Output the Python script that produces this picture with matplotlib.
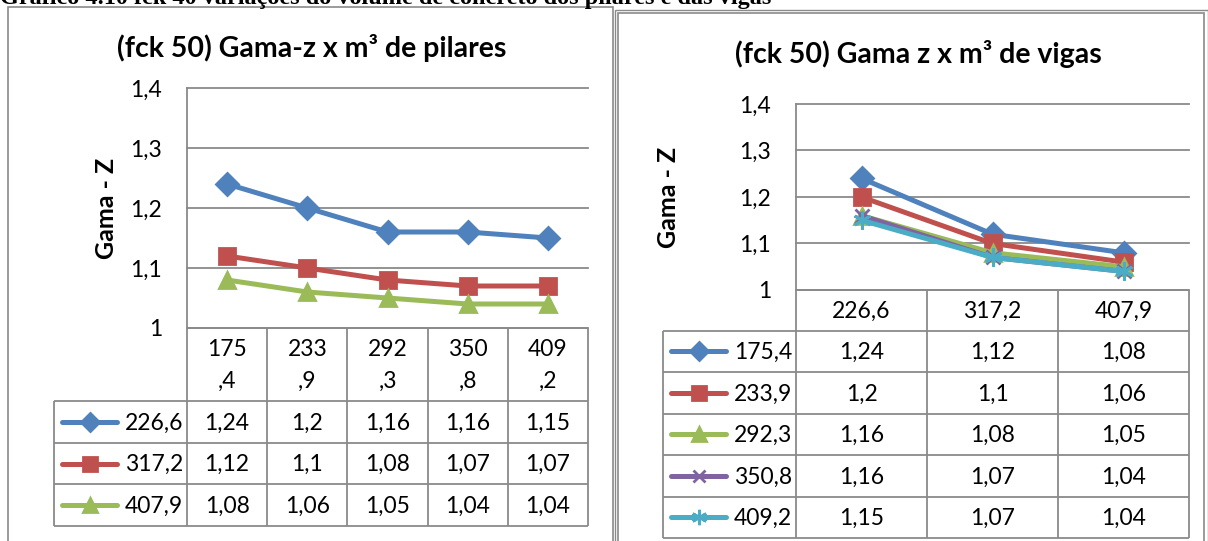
import matplotlib
matplotlib.use('Agg')
import matplotlib.pyplot as plt
from matplotlib.patches import Rectangle

# dados do grafico de pilares (fck 50)
categorias_pilares = ['175,4', '233,9', '292,3', '350,8', '409,2']
cabecalho_pilares = ['175\n,4', '233\n,9', '292\n,3', '350\n,8', '409\n,2']
series_pilares = ['226,6', '317,2', '407,9']
valores_pilares = [
    [1.24, 1.2, 1.16, 1.16, 1.15],
    [1.12, 1.1, 1.08, 1.07, 1.07],
    [1.08, 1.06, 1.05, 1.04, 1.04],
]

# dados do grafico de vigas (fck 50)
categorias_vigas = ['226,6', '317,2', '407,9']
series_vigas = ['175,4', '233,9', '292,3', '350,8', '409,2']
valores_vigas = [
    [1.24, 1.12, 1.08],
    [1.2, 1.1, 1.06],
    [1.16, 1.08, 1.05],
    [1.16, 1.07, 1.04],
    [1.15, 1.07, 1.04],
]

ticks_y = [1.0, 1.1, 1.2, 1.3, 1.4]
rotulos_y = ['1', '1,1', '1,2', '1,3', '1,4']

# cores e marcadores padrao do excel
cores = ['#4F81BD', '#C0504D', '#9BBB59', '#8064A2', '#4BACC6']
marcadores = ['D', 's', '^', 'x', (6, 2, 0)]
tamanhos = [11, 12, 12, 10, 13]

W, H = 1208, 541
FONTE = 'Lato'
CINZA = '#8a8a8a'
TAM = 16.5

plt.rcParams['font.family'] = [FONTE, 'DejaVu Sans']

fig = plt.figure(figsize=(W / 100, H / 100), dpi=100)


def eixo_px(x0, y0, x1, y1):
    '''
    Cria um eixo a partir de coordenadas em pixels (origem no canto superior esquerdo)
    '''
    return fig.add_axes([x0 / W, 1 - y1 / H, (x1 - x0) / W, (y1 - y0) / H])


def num(v):
    return f"{v:g}".replace('.', ',')


def desenhar_painel(titulo, cabecalho, series, valores, caixa, plot, tab_esq, linhas, pos_titulo, ylabel_x):
    '''
    Desenha um grafico de linhas do excel com a tabela de dados embaixo
    '''
    x0, y0, x1, y1 = plot
    n = len(cabecalho)

    # area do grafico
    ax = eixo_px(x0, y0, x1, y1)
    for i, vals in enumerate(valores):
        ax.plot(range(n), vals, color=cores[i], lw=3.6, marker=marcadores[i], ms=tamanhos[i],
                mec=cores[i], mfc=cores[i], mew=2, clip_on=False, zorder=3)
    ax.set_xlim(-0.5, n - 0.5)
    ax.set_ylim(1.0, 1.4)
    ax.set_yticks(ticks_y)
    ax.set_yticklabels(rotulos_y, fontsize=TAM)
    ax.set_xticks([])
    ax.tick_params(axis='y', length=0, pad=18)
    for s in ['top', 'right', 'bottom']:
        ax.spines[s].set_visible(False)
    ax.spines['left'].set_color(CINZA)
    ax.spines['left'].set_linewidth(1.3)
    ax.yaxis.grid(True, color=CINZA, lw=1.3)
    ax.set_axisbelow(True)
    for gl in ax.get_ygridlines():
        gl.set_clip_on(False)

    # tabela de dados
    tab = eixo_px(tab_esq, linhas[0], x1, linhas[-1] + 1)
    tab.set_xlim(tab_esq, x1)
    tab.set_ylim(linhas[-1] + 1, linhas[0])
    tab.axis('off')
    larg = (x1 - x0) / n
    kw = dict(color=CINZA, lw=1.3, clip_on=False, solid_capstyle='butt')
    # linhas horizontais
    tab.plot([x0, x1], [linhas[0], linhas[0]], **kw)
    for y in linhas[1:]:
        tab.plot([tab_esq, x1], [y, y], **kw)
    # linhas verticais
    tab.plot([tab_esq, tab_esq], [linhas[1], linhas[-1]], **kw)
    for j in range(n + 1):
        tab.plot([x0 + j * larg] * 2, [linhas[0], linhas[-1]], **kw)
    # cabecalho
    for j, c in enumerate(cabecalho):
        tab.text(x0 + (j + 0.5) * larg, (linhas[0] + linhas[1]) / 2 + 1, c, ha='center', va='center',
                 fontsize=TAM, linespacing=1.6)
    # linhas da tabela com legenda
    for i, nome in enumerate(series):
        yc = (linhas[i + 1] + linhas[i + 2]) / 2
        tab.plot([tab_esq + 8, tab_esq + 63], [yc, yc], color=cores[i], lw=3.6, solid_capstyle='round')
        tab.plot([tab_esq + 35.5], [yc], marker=marcadores[i], ms=tamanhos[i] * 0.85, color=cores[i], mew=2)
        tab.text(x0 - 4, yc + 1, nome, ha='right', va='center', fontsize=TAM)
        for j, v in enumerate(valores[i]):
            tab.text(x0 + (j + 0.5) * larg, yc + 1, num(v), ha='center', va='center', fontsize=TAM)

    # titulo e rotulo do eixo
    fig.text(pos_titulo[0] / W, 1 - pos_titulo[1] / H, titulo, ha='center', va='center',
             fontsize=20.5, fontweight='bold')
    fig.text(ylabel_x / W, 1 - (y0 + y1) / 2 / H, 'Gama - Z', ha='center', va='center',
             rotation=90, fontsize=18, fontweight='bold')

    # borda do grafico
    cx0, cy0, cx1, cy1 = caixa
    fig.patches.append(Rectangle((cx0 / W, 1 - cy1 / H), (cx1 - cx0) / W, (cy1 - cy0) / H,
                                 transform=fig.transFigure, fill=False, ec=CINZA, lw=1.2))


desenhar_painel('(fck 50) Gama-z x m³ de pilares', cabecalho_pilares, series_pilares, valores_pilares,
                caixa=(8, 7, 613, 600), plot=(187, 88, 588, 328), tab_esq=54,
                linhas=[328, 401, 443, 484, 526], pos_titulo=(312, 48), ylabel_x=106)

desenhar_painel('(fck 50) Gama z x m³ de vigas', categorias_vigas, series_vigas, valores_vigas,
                caixa=(618, 13, 1204, 600), plot=(796, 104, 1189, 290), tab_esq=663,
                linhas=[290, 331, 372, 414, 455, 497, 538], pos_titulo=(918, 54), ylabel_x=668)
# borda dupla do grafico de vigas
fig.patches.append(Rectangle((615 / W, 1 - 600 / H), 593 / W, 590 / H, transform=fig.transFigure,
                             fill=False, ec=CINZA, lw=1.0))

# legenda do documento (cortada no topo, como na figura original)
fig.text(0, 1 - 4 / H, 'Gráfico 4.10 fck 40 variações do volume de concreto dos pilares e das vigas',
         ha='left', va='baseline', fontsize=17.5, fontweight='bold', family='Liberation Serif')

fig.savefig('out.png', dpi=100)
